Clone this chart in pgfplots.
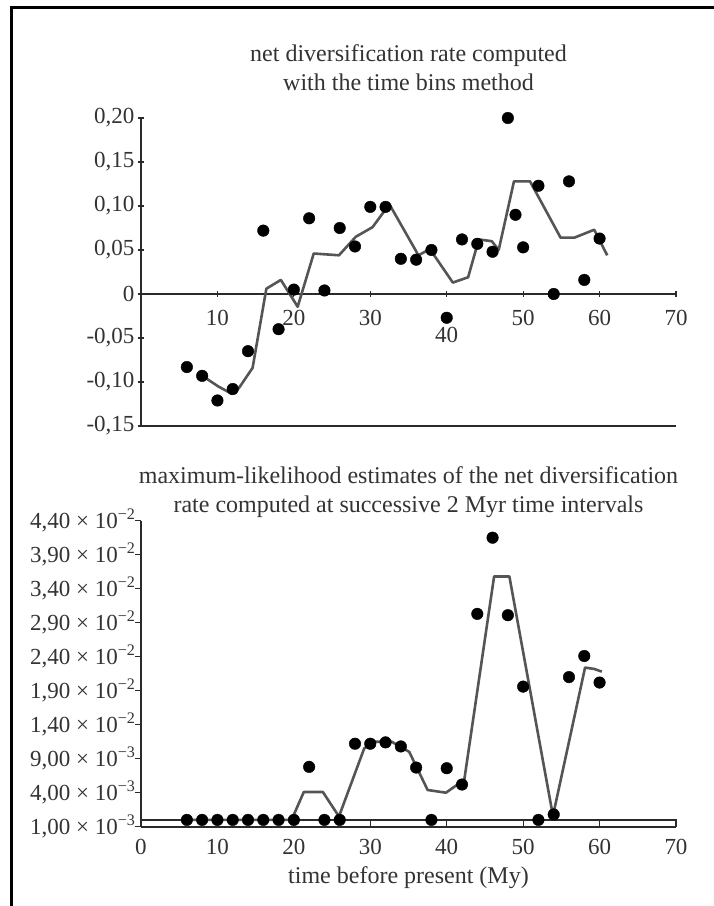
\documentclass[border=0pt]{standalone}
\usepackage{fontspec}
\setmainfont{Liberation Serif}
\usepackage{pgfplots}
\pgfplotsset{compat=1.18}
\definecolor{txt}{HTML}{333333}
\definecolor{ln}{HTML}{555555}
\definecolor{ax}{HTML}{2a2a2a}
\begin{document}
\begin{tikzpicture}[x=1pt,y=1pt]
\path[use as bounding box] (0,0) rectangle (714,906);
\draw[line width=3.4pt, black] (11.7,0) -- (11.7,898.3) -- (714,898.3);

% ---------------- top chart ----------------
\begin{axis}[
  at={(141pt,480pt)}, anchor=south west,
  scale only axis, width=535pt, height=308pt,
  xmin=0, xmax=70, ymin=-0.15, ymax=0.20,
  clip=false,
  axis y line*=left, axis x line*=middle,
  axis line style={ax, line width=1.8pt},
  tick align=center, major tick length=6pt,
  tick style={ax, line width=1.2pt},
  xtick={10,20,30,40,50,60,70},
  xticklabels={10,20,30,\raisebox{-17pt}[\height][\depth]{40},50,60,70},
  xticklabel style={yshift=-10pt},
  ytick={-0.15,-0.1,-0.05,0,0.05,0.1,0.15,0.2},
  yticklabels={{-0,15},{-0,10},{-0,05},{0},{0,05},{0,10},{0,15},{0,20}},
  scaled y ticks=false,
  tick label style={font=\fontsize{23}{27}\selectfont, text=txt},
  title={net diversification rate computed\\with the time bins method},
  title style={at={(0.5,1)}, anchor=south, yshift=18pt, align=center,
    font=\fontsize{24}{29}\selectfont, text=txt},
]
\addplot[ax, line width=2.2pt] coordinates {(0,-0.15)(70,-0.15)};
\addplot[ln, line width=2.6pt, line join=round, no marks] coordinates {
(8.04,-0.093)(10.1,-0.105)(11.9,-0.1135)(12.8,-0.107)(14.6,-0.084)(16.4,0.006)
(18.3,0.016)(20.5,-0.0145)(22.6,0.046)(25.9,0.044)(28.1,0.065)(30.3,0.076)
(32.5,0.102)(36.3,0.044)(37.8,0.051)(40.8,0.013)(42.8,0.019)(44.2,0.062)
(45.9,0.060)(46.8,0.050)(48.8,0.128)(50.9,0.128)(54.9,0.064)(56.7,0.064)
(59.3,0.073)(61.0,0.044)};
\addplot[only marks, mark=*, mark size=5.8pt, mark options={fill=black, draw=black}] coordinates {
(6,-0.083)(8,-0.093)(10,-0.121)(12,-0.108)(14,-0.065)(16,0.072)(18,-0.040)
(20,0.005)(22,0.086)(24,0.004)(26,0.075)(28,0.054)(30,0.099)(32,0.099)
(34,0.040)(36,0.039)(38,0.050)(40,-0.027)(42,0.062)(44,0.057)(46,0.048)
(48,0.200)(49,0.090)(50,0.053)(52,0.123)(54,0.000)(56,0.128)(58,0.016)(60,0.063)};
\end{axis}

% ---------------- bottom chart ----------------
\begin{axis}[
  at={(141pt,79.3pt)}, anchor=south west,
  scale only axis, width=535pt, height=306pt,
  xmin=0, xmax=70, ymin=-0.001, ymax=0.044,
  clip=false,
  axis y line*=left, axis x line*=bottom,
  axis line style={ax, line width=1.8pt},
  tick align=outside, major tick length=6pt,
  tick style={ax, line width=1.2pt},
  major x tick style={yshift=6pt},
  xtick={0,10,20,30,40,50,60,70},
  xticklabels={0,10,20,30,40,50,60,70},
  xticklabel style={yshift=-3pt},
  ytick={-0.001,0.004,0.009,0.014,0.019,0.024,0.029,0.034,0.039,0.044},
  yticklabels={
    {1,00 × 10\textsuperscript{−3}},{4,00 × 10\textsuperscript{−3}},
    {9,00 × 10\textsuperscript{−3}},{1,40 × 10\textsuperscript{−2}},
    {1,90 × 10\textsuperscript{−2}},{2,40 × 10\textsuperscript{−2}},
    {2,90 × 10\textsuperscript{−2}},{3,40 × 10\textsuperscript{−2}},
    {3,90 × 10\textsuperscript{−2}},{4,40 × 10\textsuperscript{−2}}},
  scaled y ticks=false,
  yticklabel style={xshift=4pt},
  tick label style={font=\fontsize{23}{27}\selectfont, text=txt},
  xlabel={time before present (My)},
  xlabel style={at={(0.5,0)}, anchor=north, yshift=-36pt,
    font=\fontsize{24}{29}\selectfont, text=txt},
  title={maximum-likelihood estimates of the net diversification\\rate computed at successive 2 Myr time intervals},
  title style={at={(0.5,1)}, anchor=south, yshift=-7pt, align=center,
    font=\fontsize{24}{29}\selectfont, text=txt},
]
\addplot[ax, line width=1.8pt] coordinates {(0,0)(70,0)(70,-0.001)};
\addplot[ln, line width=2.6pt, line join=round, no marks] coordinates {
(6,0)(19.7,0)(21.3,0.0041)(23.8,0.0041)(25.9,0.0005)(29.2,0.0105)(30.4,0.0115)
(32.8,0.0115)(35.1,0.0100)(37.5,0.0044)(39.9,0.0040)(42.3,0.0059)(46.2,0.0358)
(48.2,0.0358)(53.9,0.0006)(58.1,0.0224)(59.3,0.0222)(60.3,0.0218)};
\addplot[only marks, mark=*, mark size=5.8pt, mark options={fill=black, draw=black}] coordinates {
(6,0)(8,0)(10,0)(12,0)(14,0)(16,0)(18,0)(20,0)(22,0.0078)(24,0)(26,0)
(28,0.0112)(30,0.0112)(32,0.0114)(34,0.0108)(36,0.0077)(38,0)(40,0.0076)
(42,0.0052)(44,0.0303)(46,0.0415)(48,0.0301)(50,0.0196)(52,0)(54,0.0008)
(56,0.021)(58,0.0241)(60,0.0202)};
\end{axis}
\end{tikzpicture}
\end{document}
